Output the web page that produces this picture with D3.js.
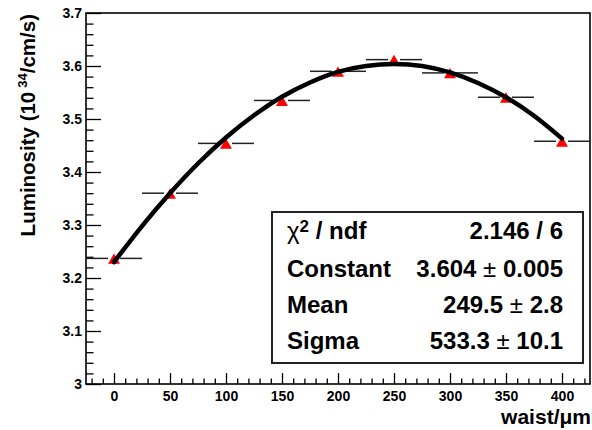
<!DOCTYPE html>
<html>
<head>
<meta charset="utf-8">
<script src="https://cdn.jsdelivr.net/npm/d3@7"></script>
<style>
  html, body { margin: 0; padding: 0; background: #fff; }
  svg { display: block; }
  text { font-family: "Liberation Sans", Arial, Helvetica, sans-serif; font-weight: bold; fill: #000; }
</style>
</head>
<body>
<svg id="chart" width="592" height="430"></svg>
<script>
// ---- data ----
const waist = [0, 50, 100, 150, 200, 250, 300, 350, 400];
const luminosity = [3.237, 3.360, 3.454, 3.535, 3.590, 3.612, 3.587, 3.541, 3.458];
const waistErr = [25, 25, 25, 25, 25, 25, 25, 25, 25];
// fitted curve
const fitX = [0, 25, 50, 75, 100, 125, 150, 175, 200, 225, 250, 275, 300, 325, 350, 375, 400];
const fitY = [3.230, 3.298, 3.360, 3.416, 3.465, 3.507, 3.542, 3.569, 3.589, 3.600, 3.604, 3.600, 3.588, 3.568, 3.541, 3.506, 3.463];
const xTickValues = [0, 50, 100, 150, 200, 250, 300, 350, 400];
const xTickLabels = ["0", "50", "100", "150", "200", "250", "300", "350", "400"];
const yTickValues = [3.0, 3.1, 3.2, 3.3, 3.4, 3.5, 3.6, 3.7];
const yTickLabels = ["3", "3.1", "3.2", "3.3", "3.4", "3.5", "3.6", "3.7"];
const statNames = ["Constant", "Mean", "Sigma"];
const statValues = ["3.604", "249.5", "533.3"];
const statErrors = ["0.005", "2.8", "10.1"];
const chi2Text = "2.146 / 6";

// ---- layout ----
const svg = d3.select("#chart");
const L = 86, R = 590, T = 13, B = 384;
const x = d3.scaleLinear().domain([-25, 425]).range([L, R]);
const y = d3.scaleLinear().domain([3.0, 3.7]).range([B, T]);

// minor ticks
const xMinor = d3.range(-20, 425, 10).filter(v => v % 50 !== 0);
const yMinor = d3.range(0, 36).map(i => +(3 + i * 0.02).toFixed(2)).filter(v => Math.round(v * 100) % 10 !== 0);

// x axis (ticks pointing up into the frame)
const gx = svg.append("g").attr("transform", `translate(0,${B})`)
  .call(d3.axisBottom(x).tickValues(xTickValues)
    .tickFormat((d, i) => xTickLabels[i])
    .tickSizeInner(-11).tickSizeOuter(0).tickPadding(5));
gx.select(".domain").remove();
gx.selectAll(".tick line").attr("stroke", "#000").attr("stroke-width", 1.3);
gx.selectAll(".tick text").attr("font-size", 14).attr("y", 7).attr("dy", "0.71em");

const gxm = svg.append("g").attr("transform", `translate(0,${B})`)
  .call(d3.axisBottom(x).tickValues(xMinor).tickFormat("").tickSizeInner(-5.5).tickSizeOuter(0));
gxm.select(".domain").remove();
gxm.selectAll(".tick line").attr("stroke", "#000").attr("stroke-width", 1.3);

// y axis (ticks pointing right into the frame)
const gy = svg.append("g").attr("transform", `translate(${L},0)`)
  .call(d3.axisLeft(y).tickValues(yTickValues)
    .tickFormat((d, i) => yTickLabels[i])
    .tickSizeInner(-15).tickSizeOuter(0).tickPadding(4));
gy.select(".domain").remove();
gy.selectAll(".tick line").attr("stroke", "#000").attr("stroke-width", 1.3);
gy.selectAll(".tick text").attr("font-size", 14).attr("x", -4);

const gym = svg.append("g").attr("transform", `translate(${L},0)`)
  .call(d3.axisLeft(y).tickValues(yMinor).tickFormat("").tickSizeInner(-7.5).tickSizeOuter(0));
gym.select(".domain").remove();
gym.selectAll(".tick line").attr("stroke", "#000").attr("stroke-width", 1.3);

// frame
svg.append("rect").attr("x", L).attr("y", T).attr("width", R - L).attr("height", B - T)
  .attr("fill", "none").attr("stroke", "#000").attr("stroke-width", 1.6);

// error bars (horizontal), with gap around the marker
const gap = 6;
const eb = svg.append("g").attr("stroke", "#222").attr("stroke-width", 1.5);
waist.forEach((w, i) => {
  const cy = y(luminosity[i]);
  eb.append("line").attr("x1", x(w - waistErr[i])).attr("x2", x(w) - gap).attr("y1", cy).attr("y2", cy);
  eb.append("line").attr("x1", x(w) + gap).attr("x2", x(Math.min(w + waistErr[i], 425))).attr("y1", cy).attr("y2", cy);
});

// markers
svg.append("g").selectAll("path").data(waist).join("path")
  .attr("d", d3.symbol(d3.symbolTriangle, 62))
  .attr("transform", (d, i) => `translate(${x(d)},${y(luminosity[i]) + 2})`)
  .attr("fill", "#ff0000");

// fit curve
const line = d3.line().x((d, i) => x(fitX[i])).y((d, i) => y(fitY[i])).curve(d3.curveNatural);
svg.append("path").datum(fitX).attr("d", line)
  .attr("fill", "none").attr("stroke", "#000").attr("stroke-width", 4.5).attr("stroke-linecap", "round");

// axis titles
svg.append("text").attr("x", 591).attr("y", 424).attr("text-anchor", "end").attr("font-size", 21)
  .text("waist/μm");

const yt = svg.append("text").attr("transform", "translate(35,14) rotate(-90)")
  .attr("text-anchor", "end").attr("font-size", 20.5);
yt.append("tspan").text("Luminosity (10");
yt.append("tspan").attr("font-size", 13).attr("dy", -8).attr("dx", 4).text("34");
yt.append("tspan").attr("dy", 8).text("/cm/s)");

// stats box
svg.append("rect").attr("x", 272).attr("y", 212).attr("width", 311).attr("height", 151)
  .attr("fill", "#fff").attr("stroke", "#222").attr("stroke-width", 2);

const rowsY = [239, 277, 313, 349];
const lx = 287, rx = 563;
const st = svg.append("g").attr("font-size", 24);
const c0 = st.append("text").attr("x", lx).attr("y", rowsY[0]);
c0.append("tspan").attr("font-weight", "normal").text("χ");
c0.append("tspan").attr("font-size", 17).attr("dy", -7).text("2");
c0.append("tspan").attr("dy", 7).text(" / ndf");
st.append("text").attr("x", rx).attr("y", rowsY[0]).attr("text-anchor", "end").text(chi2Text);
statNames.forEach((n, i) => {
  st.append("text").attr("x", lx).attr("y", rowsY[i + 1]).text(n);
  const t = st.append("text").attr("x", rx).attr("y", rowsY[i + 1]).attr("text-anchor", "end");
  t.append("tspan").text(statValues[i] + " ");
  t.append("tspan").attr("font-weight", "normal").text("±");
  t.append("tspan").text(" " + statErrors[i]);
});
</script>
</body>
</html>
